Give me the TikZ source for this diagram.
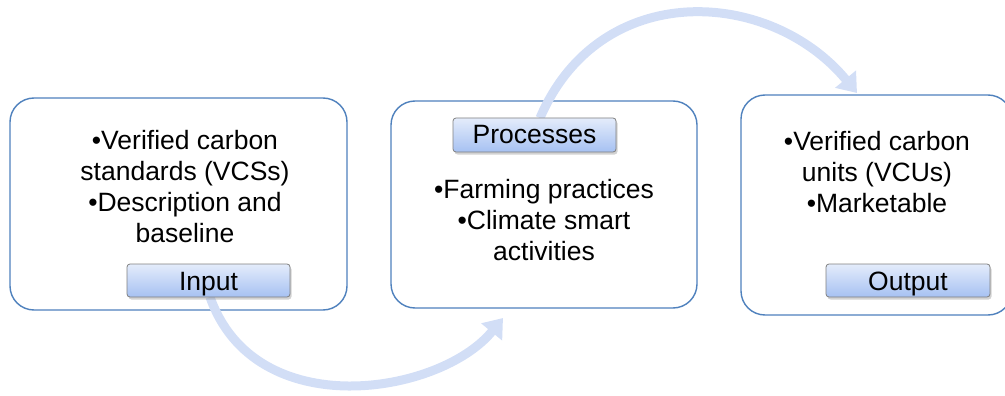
\documentclass[tikz,border=0pt]{standalone}
\usepackage{fontspec}
\setmainfont{Liberation Sans}
\usetikzlibrary{arrows.meta,shadows}
\definecolor{boxline}{RGB}{79,129,189}
\definecolor{tabtop}{RGB}{228,236,251}
\definecolor{tabbot}{RGB}{166,193,242}
\definecolor{arrowcol}{RGB}{210,222,246}
\definecolor{tabline}{RGB}{128,128,128}
\tikzset{
  panel/.style={draw=boxline, line width=1.4pt, fill=white, rounded corners=24pt},
  tab/.style={draw=tabline, line width=0.8pt, rounded corners=3pt,
    top color=tabtop, bottom color=tabbot,
    drop shadow={opacity=0.35, shadow xshift=1.5pt, shadow yshift=-2.5pt},
    font=\fontsize{26.5}{30}\selectfont, inner sep=0pt,
    text height=20pt, text depth=1pt},
  body/.style={align=center, font=\fontsize{26.5}{31}\selectfont, inner sep=0pt},
  flow/.style={draw=arrowcol, line width=9pt,
    -{Triangle[width=26pt,length=18pt]}},
}
\begin{document}
\begin{tikzpicture}[x=1pt,y=-1pt]
\useasboundingbox (0,0) rectangle (1005,396);
% panels
\node[panel, minimum width=337pt, minimum height=212pt] (inbox) at (178.5,204) {};
\node[panel, minimum width=306pt, minimum height=207pt] (procbox) at (544,204.5) {};
\node[panel, minimum width=271pt, minimum height=220pt] (outbox) at (876.5,205) {};
% texts
\node[body] (intext) at (185,187) {•Verified carbon\\standards (VCSs)\\•Description and\\baseline};
\node[body] (proctext) at (544,220) {•Farming practices\\•Climate smart\\activities};
\node[body] (outtext) at (877,172) {•Verified carbon\\units (VCUs)\\•Marketable};
% tab positions
\coordinate (incenter) at (208.5,280.5);
\coordinate (proccenter) at (534.5,135);
\coordinate (outcenter) at (908,280.5);
\coordinate (a1end) at (503,318);
\coordinate (a2end) at (857,93);
% arrows
\draw[flow] (210,297) .. controls (255,425) and (440,395) .. (a1end);
\draw[flow] (540,118) .. controls (600,-22) and (770,-12) .. (a2end);
% tabs
\node[tab, minimum width=163pt, minimum height=33pt] (input) at (incenter) {Input};
\node[tab, minimum width=163pt, minimum height=34pt, text height=18pt, text depth=2pt] (proc) at (proccenter) {Processes};
\node[tab, minimum width=164pt, minimum height=33pt] (output) at (outcenter) {Output};
\end{tikzpicture}
\end{document}
